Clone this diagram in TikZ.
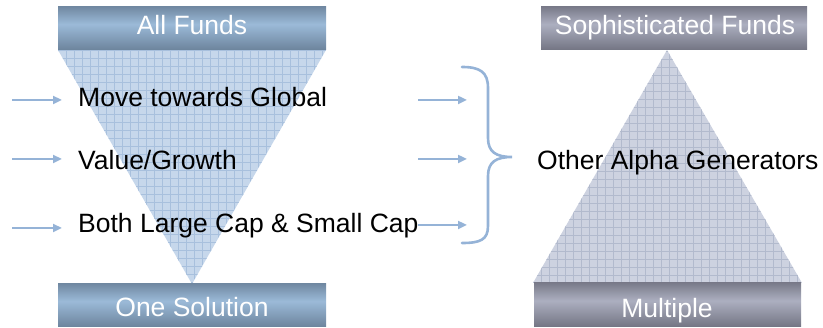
\documentclass[tikz,border=0pt]{standalone}
\usepackage{fontspec}
\setmainfont{Liberation Sans}
\usetikzlibrary{arrows.meta}
\definecolor{arr}{RGB}{149,179,215}
\definecolor{bdark}{RGB}{66,82,102}
\definecolor{blight}{RGB}{155,186,216}
\definecolor{gdark}{RGB}{64,64,76}
\definecolor{glight}{RGB}{172,175,192}
\definecolor{tribl}{RGB}{198,215,235}
\definecolor{tribg}{RGB}{168,192,221}
\definecolor{trigr}{RGB}{205,210,224}
\definecolor{trigg}{RGB}{178,186,205}
\pgfdeclareverticalshading{bluebar}{100bp}{color(0bp)=(bdark); color(15bp)=(bdark!70!blight); color(55bp)=(blight); color(85bp)=(bdark!70!blight); color(100bp)=(bdark)}
\pgfdeclareverticalshading{graybar}{100bp}{color(0bp)=(gdark); color(15bp)=(gdark!70!glight); color(55bp)=(glight); color(85bp)=(gdark!70!glight); color(100bp)=(gdark)}
\tikzset{
  bar/.style={minimum height=43pt, inner sep=0pt, text=white, font=\fontsize{26.5}{30}\selectfont},
  bluebar/.style={bar, shading=bluebar},
  graybar/.style={bar, shading=graybar},
  lbl/.style={inner sep=0pt, text=black, font=\fontsize{26.5}{30}\selectfont},
  arrow/.style={draw=arr, line width=2.8pt, -{Triangle[length=9pt,width=8pt]}},
  brace/.style={draw=arr, line width=2.6pt, line cap=round},
  gridline/.style={line width=0.7pt}
}
\begin{document}
\begin{tikzpicture}[x=1pt,y=-1pt]
\useasboundingbox (0,0) rectangle (823,328);
% triangles
\coordinate (lt1) at (58,50); \coordinate (lt2) at (326,50); \coordinate (lt3) at (192,284);
\coordinate (rt1) at (667,50); \coordinate (rt2) at (533,283); \coordinate (rt3) at (802,283);
\begin{scope}
  \clip (lt1) -- (lt2) -- (lt3) -- cycle;
  \fill[tribl] (50,40) rectangle (340,290);
  \foreach \x in {50,58,...,340} \draw[gridline, tribg] (\x,40) -- (\x,290);
  \foreach \y in {42,50,...,290} \draw[gridline, tribg] (50,\y) -- (340,\y);
\end{scope}
\begin{scope}
  \clip (rt1) -- (rt2) -- (rt3) -- cycle;
  \fill[trigr] (525,40) rectangle (810,290);
  \foreach \x in {525,533,...,810} \draw[gridline, trigg] (\x,40) -- (\x,290);
  \foreach \y in {43,51,...,290} \draw[gridline, trigg] (525,\y) -- (810,\y);
\end{scope}
% bars
\node[bluebar, minimum width=268pt] (allfunds) at (192,28.5) {};
\node[bluebar, minimum width=268pt, minimum height=43pt] (onesol) at (192,305.5) {};
\node[graybar, minimum width=266pt] (soph) at (674,28.5) {};
\node[graybar, minimum width=267pt, minimum height=44pt] (multiple) at (667.5,305) {};
\node[lbl, text=white, anchor=base] (tallf) at (192,35) {All Funds};
\node[lbl, text=white, anchor=base] (tones) at (192,317) {One Solution};
\node[lbl, text=white, anchor=base] (tsoph) at (675,35) {Sophisticated Funds};
\node[lbl, text=white, anchor=base] (tmult) at (667,318) {Multiple};
% labels
\node[lbl, anchor=base west] (move) at (78,107) {Move towards Global};
\node[lbl, anchor=base west] (value) at (78,170) {Value/Growth};
\node[lbl, anchor=base west] (both) at (78,233) {Both Large Cap \& Small Cap};
\node[lbl, anchor=base west] (other) at (537,170) {Other Alpha Generators};
% arrows
\coordinate (l1s) at (12,100); \coordinate (l1e) at (62,100);
\coordinate (l2s) at (12,159); \coordinate (l2e) at (62,159);
\coordinate (l3s) at (12,228); \coordinate (l3e) at (62,228);
\coordinate (r1s) at (418,100); \coordinate (r1e) at (467,100);
\coordinate (r2s) at (418,159); \coordinate (r2e) at (467,159);
\coordinate (r3s) at (418,225); \coordinate (r3e) at (467,225);
\draw[arrow] (l1s) -- (l1e);
\draw[arrow] (l2s) -- (l2e);
\draw[arrow] (l3s) -- (l3e);
\draw[arrow] (r1s) -- (r1e);
\draw[arrow] (r2s) -- (r2e);
\draw[arrow] (r3s) -- (r3e);
% brace
\coordinate (btop) at (462,67); \coordinate (btip) at (512,157); \coordinate (bbot) at (462,243);
\draw[brace] (btop) .. controls (480,67) and (488,72) .. (488,88)
  -- (488,138) .. controls (488,152) and (496,157) .. (btip)
  .. controls (496,157) and (488,162) .. (488,176)
  -- (488,226) .. controls (488,240) and (480,243) .. (bbot);
\end{tikzpicture}
\end{document}
